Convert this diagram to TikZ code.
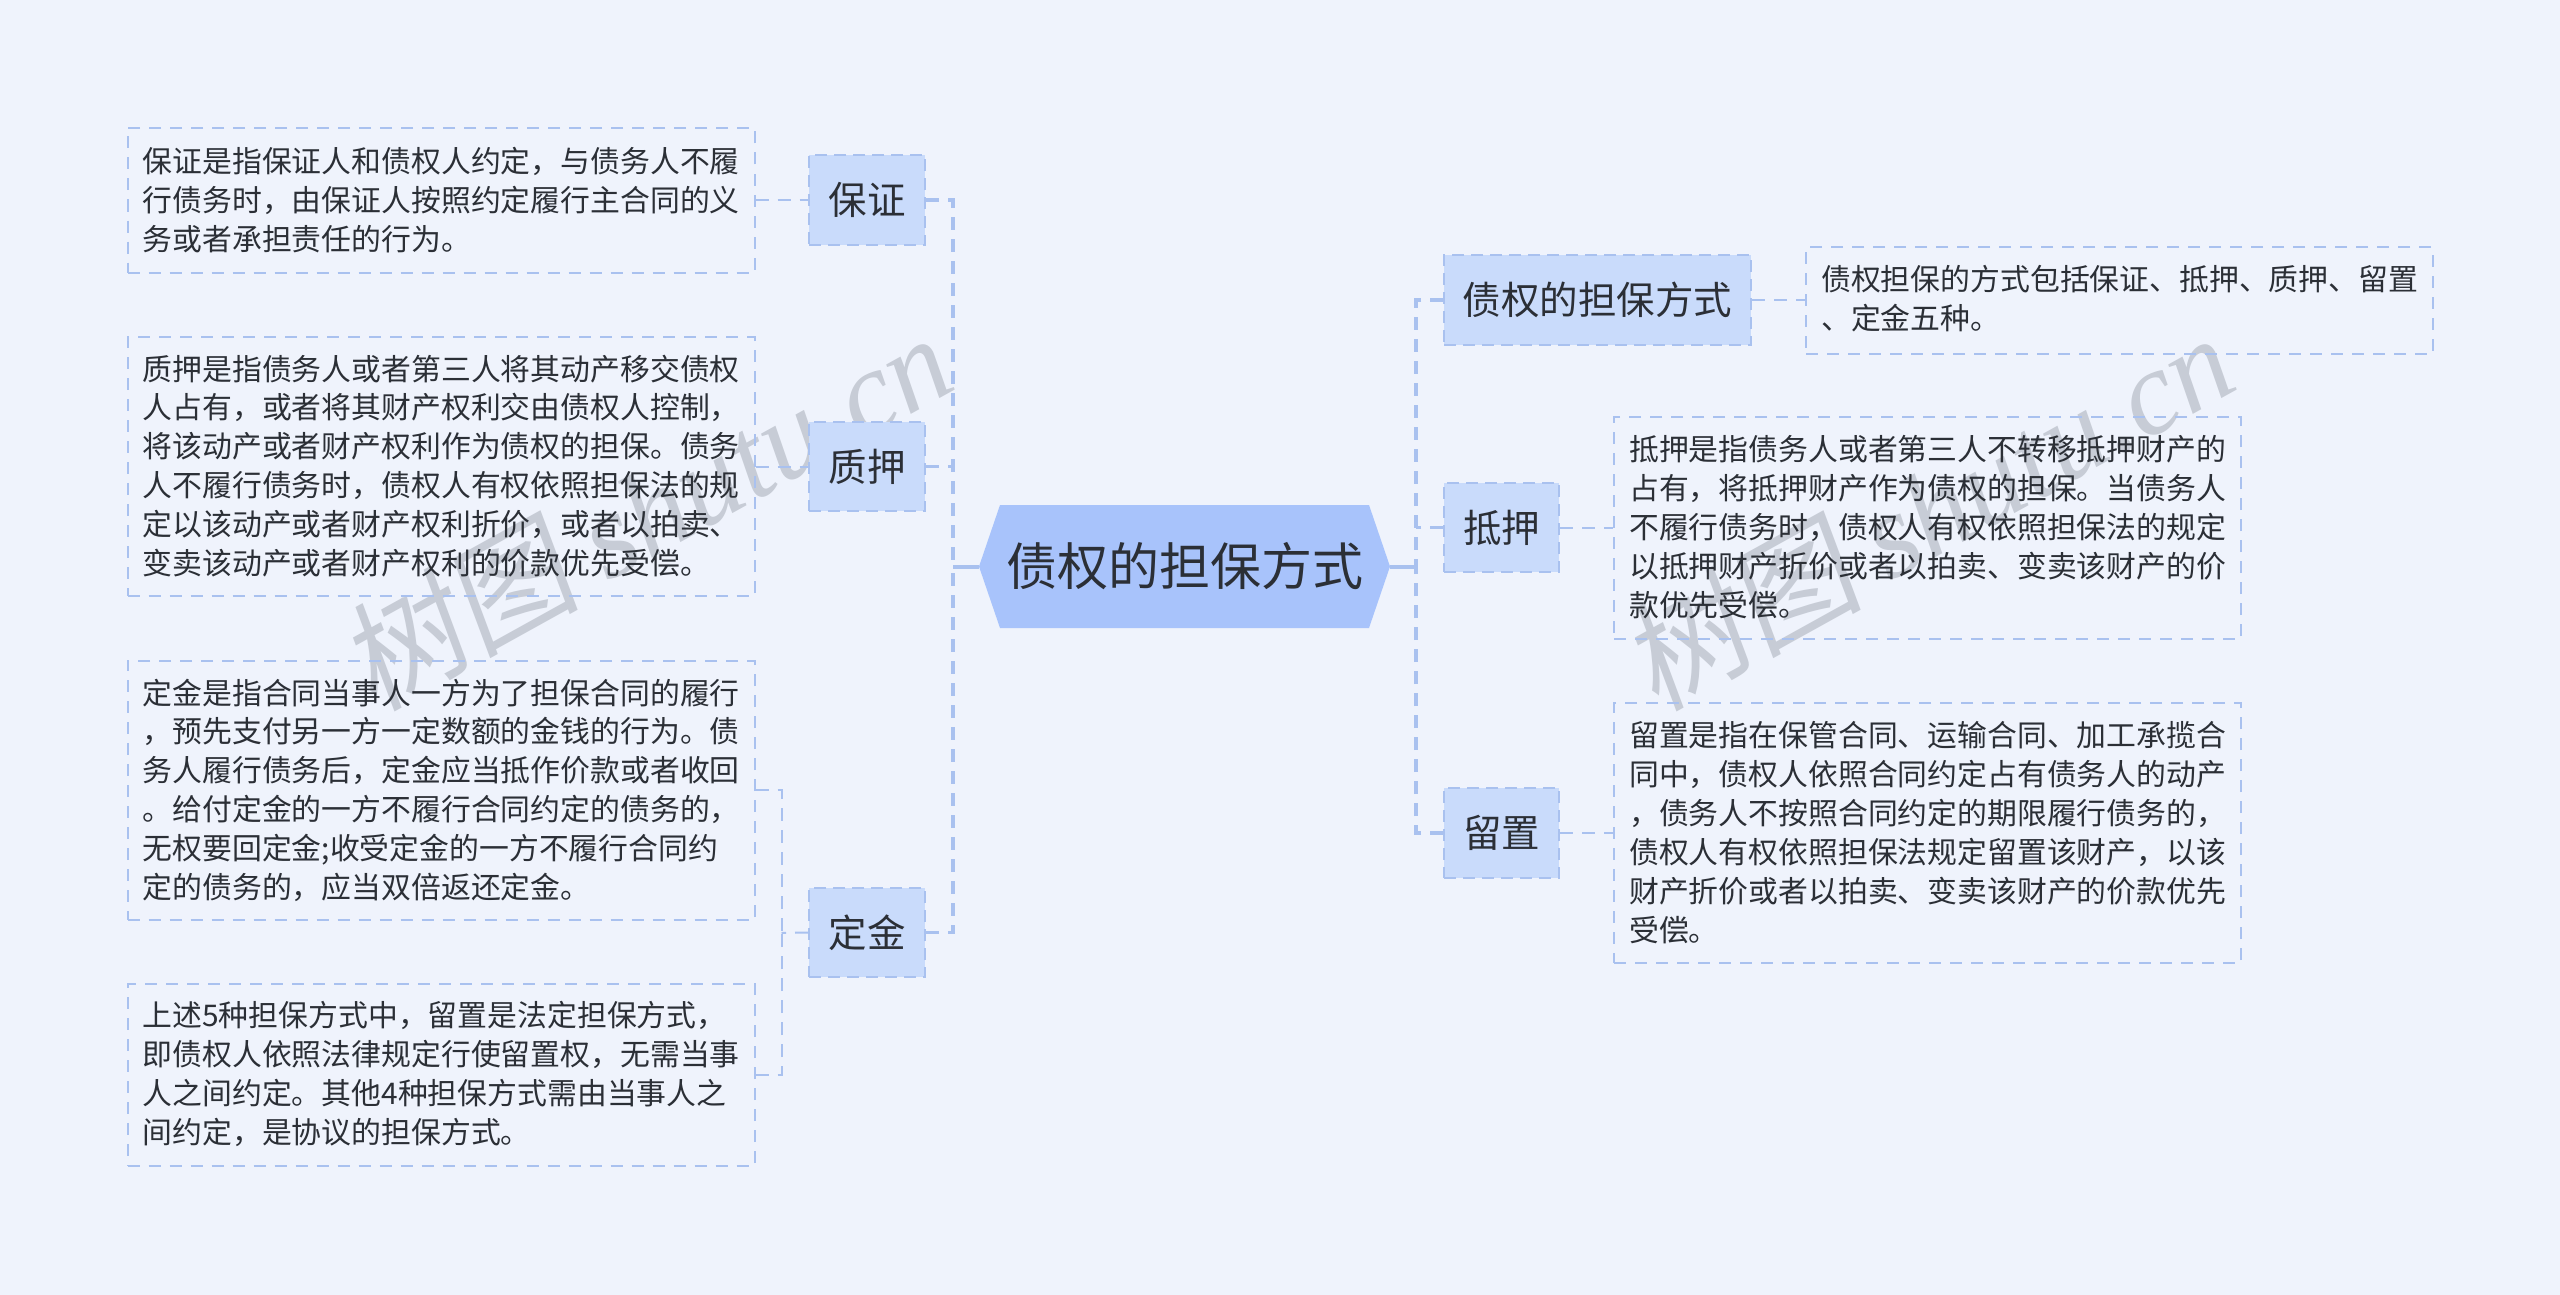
\documentclass[tikz,border=0pt]{standalone}
\usepackage{fontspec}
\setmainfont{Noto Sans CJK SC}
\newfontfamily\wmlatin{Liberation Serif}[Scale=1]
\newfontfamily\wmcjk{Noto Sans CJK SC}[FakeSlant=0.15]
\usetikzlibrary{calc}
\definecolor{bgc}{HTML}{EFF3FC}
\definecolor{linec}{HTML}{A9C1EF}
\definecolor{subc}{HTML}{C9DBFB}
\definecolor{rootc}{HTML}{A8C3FB}
\definecolor{txtc}{HTML}{2B2F36}
\definecolor{wmc}{HTML}{C7CCD6}
\newcommand{\leaftext}[1]{\fontsize{29.85}{38.9}\selectfont #1}
\tikzset{
  x=1pt,y=-1pt,
  leafbox/.style={draw=linec,line width=2pt,dash pattern=on 12pt off 9pt,rectangle,inner sep=0pt,minimum width=0pt},
  subbox/.style={draw=linec,fill=subc,line width=2pt,dash pattern=on 12pt off 7pt,rectangle,text=txtc,font=\fontsize{38.5}{44}\selectfont,inner sep=0pt,anchor=center},
  branch/.style={draw=linec,line width=3.6pt,dash pattern=on 13pt off 9pt},
  twig/.style={draw=linec,line width=2pt,dash pattern=on 13pt off 9pt},
  leaftxt/.style={text=txtc,align=left,anchor=north west,inner sep=0pt,font=\leaftext{}},
  wm/.style={text=wmc,rotate=29,anchor=center,inner sep=0pt},
}
\newcommand{\rectnode}[7]{% name, style, x1,y1,x2,y2, text
  \node[#2,minimum width=#5pt-#3pt,minimum height=#6pt-#4pt] (#1) at ({(#3+#5)/2},{(#4+#6)/2}) {#7};}
\begin{document}
\begin{tikzpicture}
\useasboundingbox[fill=bgc] (0,0) rectangle (2560,1295);
% watermarks
\node[wm] (wma) at (645,510) {\fontsize{120}{120}\selectfont\wmcjk 树图\ \wmlatin\itshape shutu.cn};
\node[wm] (wmb) at (1927,510) {\fontsize{120}{120}\selectfont\wmcjk 树图\ \wmlatin\itshape shutu.cn};
% root
\coordinate (rw) at (979,566.5);
\coordinate (re) at (1390,566.5);
\fill[rootc] (rw) -- (1000,505) -- (1369,505) -- (re) -- (1369,628) -- (1000,628) -- cycle;
\node[text=txtc,font=\fontsize{51}{60}\selectfont,inner sep=0pt] (roottxt) at (1184.5,566) {债权的担保方式};
% sub nodes
\rectnode{s1}{subbox}{809}{155}{925}{245}{保证}
\rectnode{s2}{subbox}{809}{422}{925}{511}{质押}
\rectnode{s3}{subbox}{809}{888}{925}{977}{定金}
\rectnode{s4}{subbox}{1444}{255}{1751}{345}{债权的担保方式}
\rectnode{s5}{subbox}{1444}{483}{1559}{572}{抵押}
\rectnode{s6}{subbox}{1444}{788}{1559}{878}{留置}
% leaves
\rectnode{l1}{leafbox}{127.5}{128}{754.5}{272.5}{}
\rectnode{l2}{leafbox}{127.5}{337}{754.5}{596}{}
\rectnode{l3}{leafbox}{127.5}{660.5}{754.5}{920}{}
\rectnode{l4}{leafbox}{127.5}{984}{754.5}{1166}{}
\rectnode{l5}{leafbox}{1806}{247}{2432.5}{354}{}
\rectnode{l6}{leafbox}{1614}{417}{2241}{639}{}
\rectnode{l7}{leafbox}{1614}{703}{2241}{963}{}
% leaf texts
\node[leaftxt] (t1) at (142.5,147) {保证是指保证人和债权人约定，与债务人不履\\行债务时，由保证人按照约定履行主合同的义\\务或者承担责任的行为。};
\node[leaftxt] (t2) at (142.5,354.5) {质押是指债务人或者第三人将其动产移交债权\\人占有，或者将其财产权利交由债权人控制，\\将该动产或者财产权利作为债权的担保。债务\\人不履行债务时，债权人有权依照担保法的规\\定以该动产或者财产权利折价，或者以拍卖、\\变卖该动产或者财产权利的价款优先受偿。};
\node[leaftxt] (t3) at (142.5,678.5) {定金是指合同当事人一方为了担保合同的履行\\，预先支付另一方一定数额的金钱的行为。债\\务人履行债务后，定金应当抵作价款或者收回\\。给付定金的一方不履行合同约定的债务的，\\无权要回定金;收受定金的一方不履行合同约\\定的债务的，应当双倍返还定金。};
\node[leaftxt] (t4) at (142.5,1001.5) {上述5种担保方式中，留置是法定担保方式，\\即债权人依照法律规定行使留置权，无需当事\\人之间约定。其他4种担保方式需由当事人之\\间约定，是协议的担保方式。};
\node[leaftxt] (t5) at (1821,265.5) {债权担保的方式包括保证、抵押、质押、留置\\、定金五种。};
\node[leaftxt] (t6) at (1629,435.5) {抵押是指债务人或者第三人不转移抵押财产的\\占有，将抵押财产作为债权的担保。当债务人\\不履行债务时，债权人有权依照担保法的规定\\以抵押财产折价或者以拍卖、变卖该财产的价\\款优先受偿。};
\node[leaftxt] (t7) at (1629,721.5) {留置是指在保管合同、运输合同、加工承揽合\\同中，债权人依照合同约定占有债务人的动产\\，债务人不按照合同约定的期限履行债务的，\\债权人有权依照担保法规定留置该财产，以该\\财产折价或者以拍卖、变卖该财产的价款优先\\受偿。};
% connector coordinates
\coordinate (lsp) at (952,566.5);
\coordinate (rsp) at (1416,566.5);
\coordinate (lk) at (781.5,933);
% root to spines
\draw[draw=linec,line width=4pt] (rw) -- ($(rw)+(-26,0)$) coordinate (lroot) (re) -- (rsp);
% left spine
\draw[branch] (s1.east) -- (s1.east -| lroot) -- (lroot);
\draw[branch] (s3.east) -- (s3.east -| lroot) -- (lroot);
\draw[branch] (s2.east) -- (s2.east -| lroot);
% right spine
\draw[branch] (s4.west) -- (s4.west -| rsp) -- (rsp);
\draw[branch] (s6.west) -- (s6.west -| rsp) -- (rsp);
\draw[branch] (s5.west) -- (s5.west -| rsp);
% twigs
\draw[twig] (l1.east |- s1.west) -- (s1.west);
\draw[twig] (l2.east |- s2.west) -- (s2.west);
\draw[twig] (s3.west) -- (lk);
\draw[twig] (l3.east) -- (l3.east -| lk) -- (lk);
\draw[twig] (l4.east) -- (l4.east -| lk) -- (lk);
\draw[twig] (s4.east) -- (l5.west |- s4.east);
\draw[twig] (s5.east) -- (l6.west |- s5.east);
\draw[twig] (s6.east) -- (l7.west |- s6.east);
\end{tikzpicture}
\end{document}
